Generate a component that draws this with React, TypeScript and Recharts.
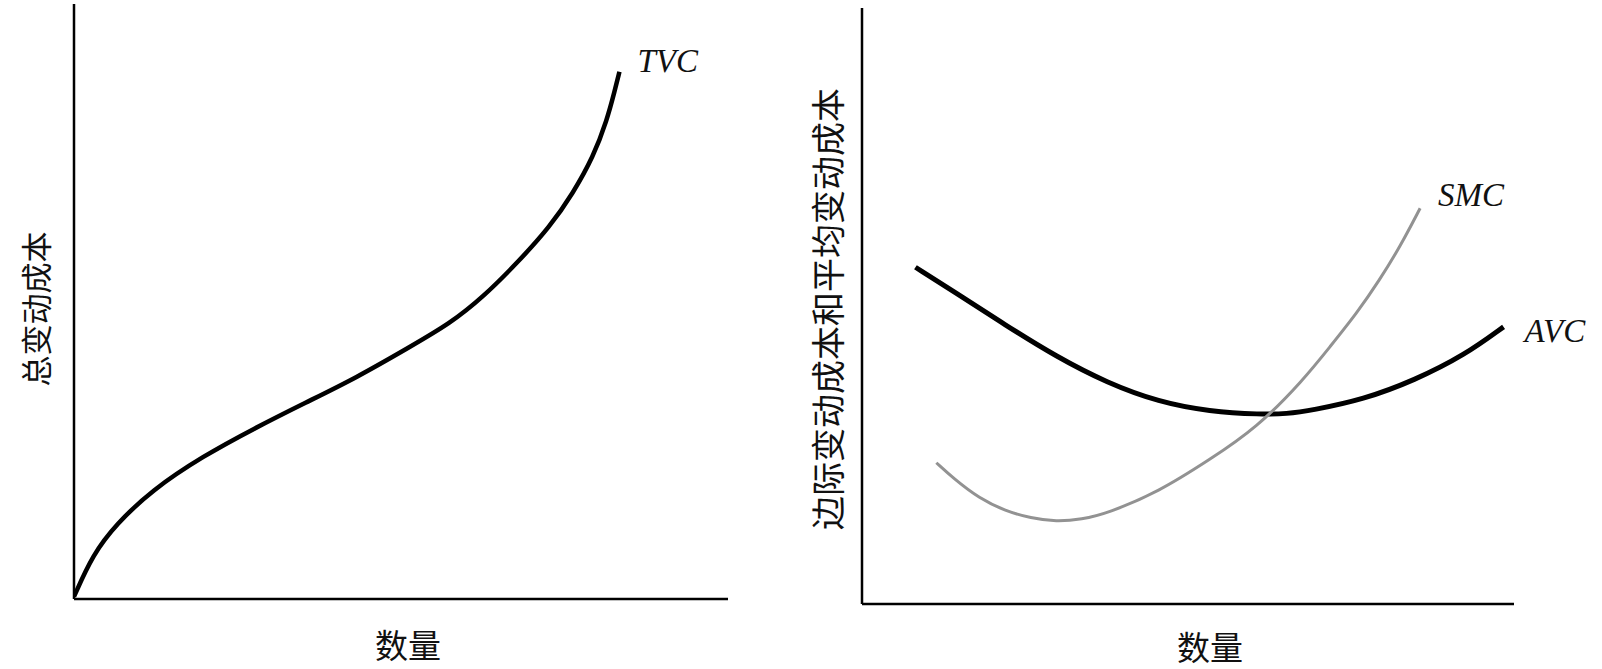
import React from "react";
import { LineChart, Line, XAxis, YAxis, LabelList } from "recharts";

// Left panel: total variable cost (TVC)
const tvcQ = [0, 2.9, 6.4, 11.9, 19.7, 27.6, 35.4, 43.2, 51.4, 57.5, 62.6, 67.7, 72.8, 76.3, 79.4, 81.5, 82.7, 83.4];
const tvcCost = [0.4, 7.5, 12.5, 18.3, 24.0, 28.7, 33.0, 37.2, 42.4, 46.3, 50.8, 56.4, 62.6, 68.2, 74.3, 80.5, 85.5, 88.6];

// Right panel: average variable cost (AVC) and short-run marginal cost (SMC)
const avcQ = [8.2, 14.1, 22.0, 29.8, 37.6, 45.5, 53.3, 61.2, 65.1, 69.0, 76.9, 84.7, 92.5, 98.4];
const avcCost = [56.5, 52.4, 46.8, 41.5, 37.1, 33.9, 32.3, 31.8, 31.9, 32.5, 34.3, 37.5, 41.8, 46.5];

const smcQ = [11.4, 14.1, 18.0, 22.0, 25.9, 29.8, 33.7, 37.6, 45.5, 53.3, 60.5, 67.7, 71.8, 75.9, 79.4, 82.5, 85.6];
const smcCost = [23.7, 21.0, 17.7, 15.6, 14.4, 13.8, 14.2, 15.2, 18.8, 24.2, 29.5, 37.6, 43.2, 48.8, 54.4, 59.9, 66.4];

const seriesNames = ["TVC", "AVC", "SMC"];
const axisTitles = { leftY: "总变动成本", rightY: "边际变动成本和平均变动成本", x: "数量" };

const toRows = (q: number[], c: number[]) => q.map((v, i) => ({ q: v, c: c[i] }));
const tvcData = toRows(tvcQ, tvcCost);
const avcData = toRows(avcQ, avcCost);
const smcData = toRows(smcQ, smcCost);

const serif = "'Liberation Serif', 'DejaVu Serif', serif";
const cjk = "'Noto Sans CJK SC', 'Noto Sans', sans-serif";

const endLabel = (name: string, n: number, dx: number, dy: number) => (p: any) => {
  if (p.index !== n - 1) return null;
  return (
    <text x={p.x + dx} y={p.y + dy} fontFamily={serif} fontStyle="italic" fontSize={33} fill="#111">
      {name}
    </text>
  );
};

const axisLine = { stroke: "#000", strokeWidth: 2.5 };

export default function App() {
  return (
    <div style={{ position: "absolute", left: 0, top: 0, width: 1602, height: 669, background: "#fff", overflow: "hidden" }}>
      <div style={{ position: "absolute", left: 0, top: 0 }}>
        <LineChart width={800} height={669} margin={{ left: 64, right: 72, top: 4, bottom: 60 }}>
          <XAxis type="number" dataKey="q" domain={[0, 100]} height={10} tick={false} tickLine={false} axisLine={axisLine} allowDataOverflow />
          <YAxis type="number" dataKey="c" domain={[0, 100]} width={10} tick={false} tickLine={false} axisLine={axisLine} allowDataOverflow />
          <Line data={tvcData} dataKey="c" type="basis" stroke="#000" strokeWidth={4.5} dot={false} isAnimationActive={false}>
            <LabelList dataKey="c" content={endLabel(seriesNames[0], tvcData.length, 18, 0)} />
          </Line>
        </LineChart>
      </div>
      <div style={{ position: "absolute", left: 800, top: 0 }}>
        <LineChart width={802} height={669} margin={{ left: 52, right: 88, top: 8, bottom: 55 }}>
          <XAxis type="number" dataKey="q" domain={[0, 100]} height={10} tick={false} tickLine={false} axisLine={axisLine} allowDataOverflow />
          <YAxis type="number" dataKey="c" domain={[0, 100]} width={10} tick={false} tickLine={false} axisLine={axisLine} allowDataOverflow />
          <Line data={avcData} dataKey="c" type="basis" stroke="#000" strokeWidth={5} dot={false} isAnimationActive={false}>
            <LabelList dataKey="c" content={endLabel(seriesNames[1], avcData.length, 21, 15)} />
          </Line>
          <Line data={smcData} dataKey="c" type="basis" stroke="#929292" strokeWidth={3} dot={false} isAnimationActive={false}>
            <LabelList dataKey="c" content={endLabel(seriesNames[2], smcData.length, 18, -2)} />
          </Line>
        </LineChart>
      </div>
      <svg width={1602} height={669} style={{ position: "absolute", left: 0, top: 0, pointerEvents: "none" }}>
        <text x={34} y={309} transform="rotate(-90 34 309)" textAnchor="middle" dominantBaseline="central" fontFamily={cjk} fontSize={31} fill="#111">
          {axisTitles.leftY}
        </text>
        <text x={826} y={309} transform="rotate(-90 826 309)" textAnchor="middle" dominantBaseline="central" fontFamily={cjk} fontSize={34} fill="#111">
          {axisTitles.rightY}
        </text>
        <text x={408} y={644} textAnchor="middle" dominantBaseline="central" fontFamily={cjk} fontSize={33} fill="#111">
          {axisTitles.x}
        </text>
        <text x={1210} y={646} textAnchor="middle" dominantBaseline="central" fontFamily={cjk} fontSize={33} fill="#111">
          {axisTitles.x}
        </text>
      </svg>
    </div>
  );
}
